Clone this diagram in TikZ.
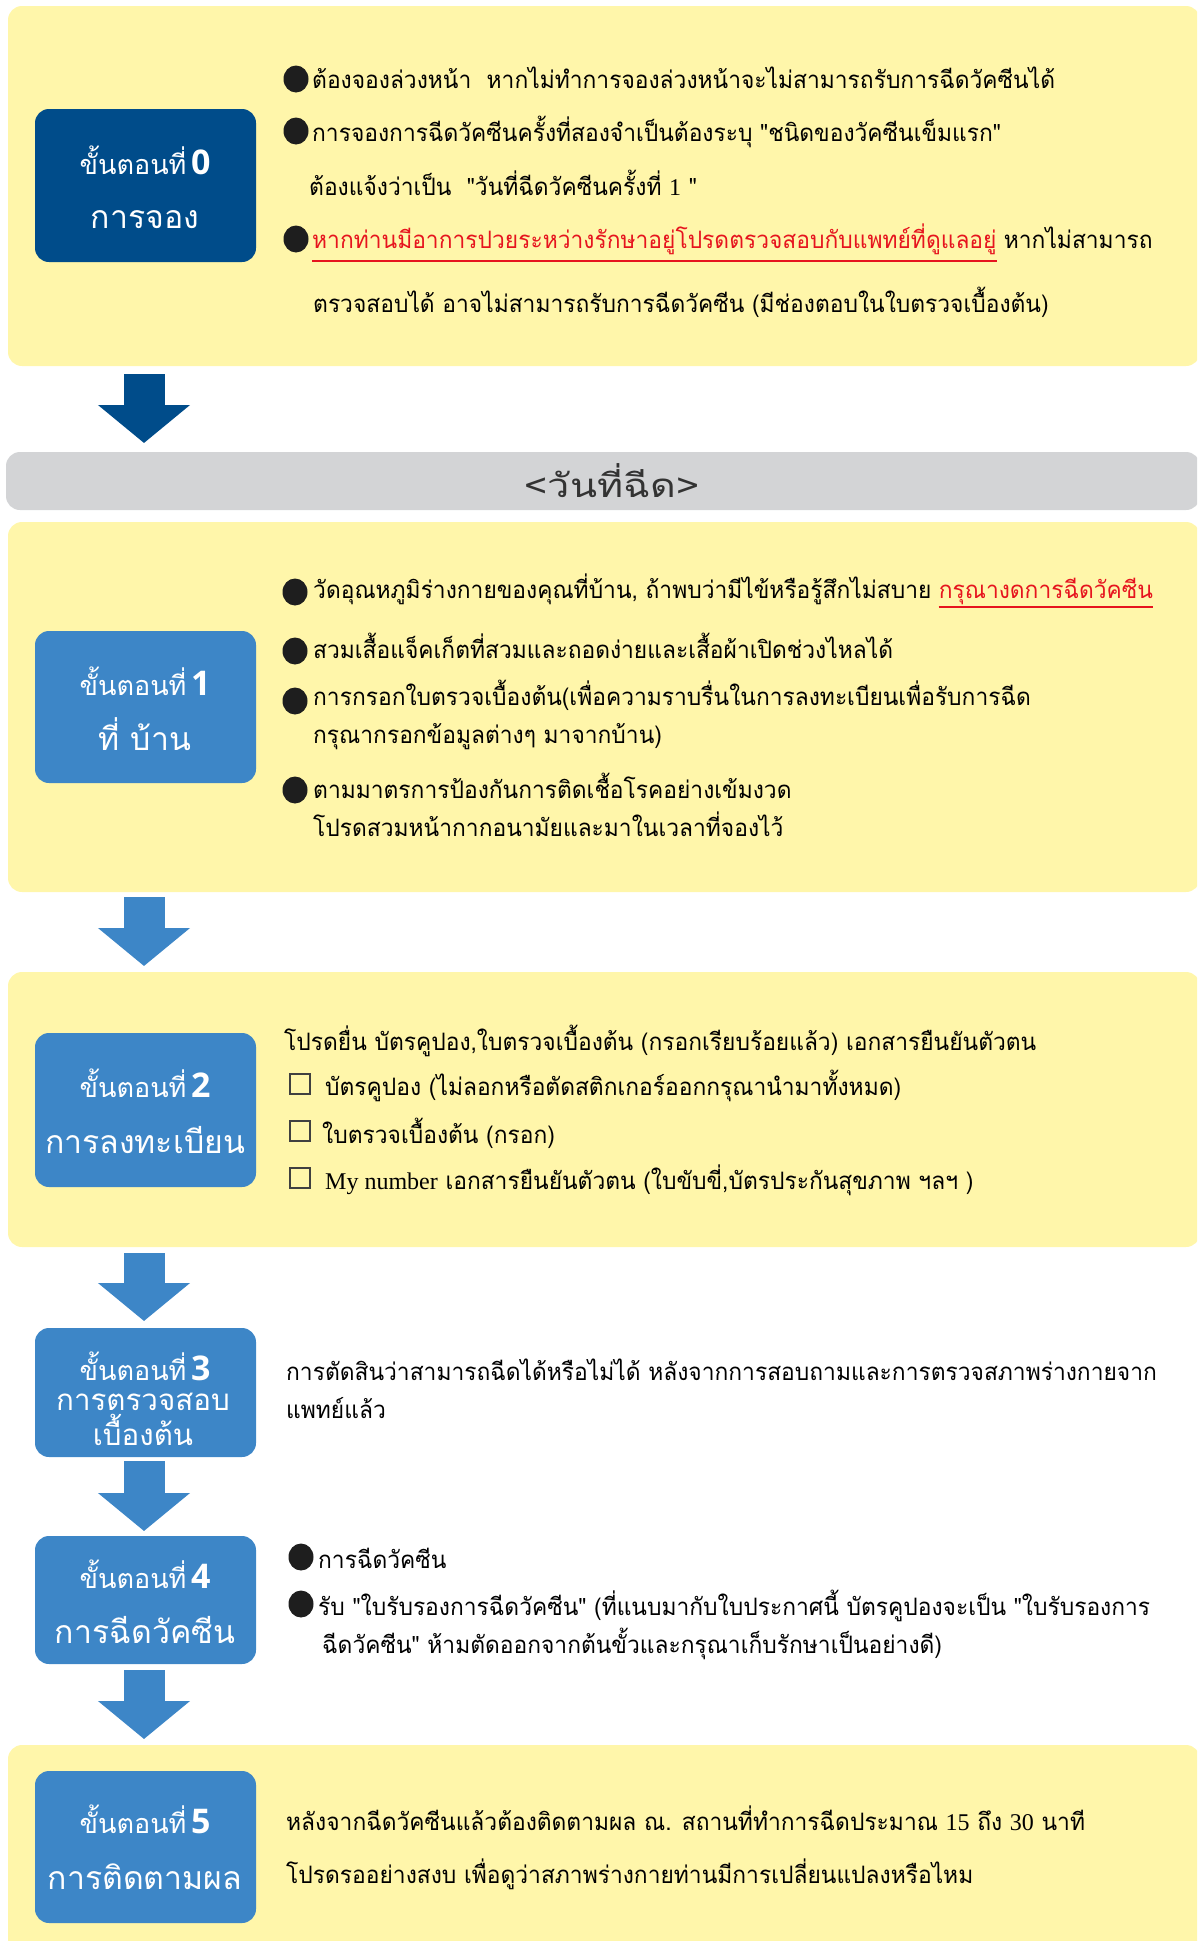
\documentclass[tikz,border=0pt]{standalone}
\usepackage{fontspec}
\usetikzlibrary{arrows.meta}
\newfontfamily\thaifont[Script=Thai]{Loma}
\newfontfamily\bodythai[Script=Thai, FakeStretch=0.95]{Loma}
\newfontfamily\widethai[Script=Thai, FakeStretch=1.2]{Loma}
\newfontfamily\latserif{Liberation Serif}
\newfontfamily\digitfont{Open Sans}
\definecolor{panelyellow}{RGB}{255,246,170}
\definecolor{darkblue}{RGB}{0,76,138}
\definecolor{midblue}{RGB}{61,134,199}
\definecolor{greybar}{RGB}{211,212,214}
\definecolor{redtxt}{RGB}{230,20,30}
\definecolor{bulletblack}{RGB}{30,30,30}
\newcommand\bodyfont{\bodythai\fontsize{24}{28}\selectfont}
\newcommand\boxfont{\thaifont\fontsize{27}{30}\selectfont}
\newcommand\boxbig{\thaifont\fontsize{32}{34}\selectfont}
\newcommand\boxmid{\thaifont\fontsize{29.5}{32}\selectfont}
\newcommand\lat[1]{{\latserif #1}}
\newcommand\dg[1]{{\digitfont\bfseries\fontsize{34}{34}\selectfont #1}}
\begin{document}
\begin{tikzpicture}[x=1pt,y=-1pt,
  panel/.style={fill=panelyellow, rounded corners=14pt},
  stepbox/.style={rounded corners=14pt},
  txt/.style={anchor=base west, inner sep=0pt, font=\bodyfont, text=black},
  redline/.style={draw=redtxt, line width=2.5pt},
  lbl/.style={anchor=base, inner sep=0pt, text=white},
  bigarrow/.style={line width=41pt, -{Triangle[width=90pt,length=38pt]}},
  bul/.style={fill=bulletblack},
  chk/.style={draw=black!75, line width=1.3pt, fill=none}]
\useasboundingbox (0,0) rectangle (1197,1941);
\clip (0,0) rectangle (1197,1941);

% ---------- panels ----------
\path[panel] (8,6) rectangle (1200,366);
\path[fill=greybar, rounded corners=14pt] (6,452) rectangle (1200,510);
\path[panel] (8,522) rectangle (1200,892);
\path[panel] (8,972) rectangle (1200,1247);
\path[panel] (8,1745) rectangle (1200,1960);

% ---------- step boxes ----------
\path[stepbox, fill=darkblue] (35,109) rectangle (256,262);
\path[stepbox, fill=midblue] (35,631) rectangle (256,783);
\path[stepbox, fill=midblue] (35,1033) rectangle (256,1187);
\path[stepbox, fill=midblue] (35,1328) rectangle (256,1457);
\path[stepbox, fill=midblue] (35,1536) rectangle (256,1664);
\path[stepbox, fill=midblue] (35,1771) rectangle (256,1923);

% ---------- box labels ----------
\node[lbl] (s0a) at (145,174) {\boxfont ขั้นตอนที่\,\dg{0}};
\node[lbl] (s0b) at (145,228) {\boxbig การจอง};
\node[lbl] (s1a) at (145,695) {\boxfont ขั้นตอนที่\,\dg{1}};
\node[lbl] (s1b) at (145,750) {\boxbig ที่\ บ้าน};
\node[lbl] (s2a) at (145,1097) {\boxfont ขั้นตอนที่\,\dg{2}};
\node[lbl] (s2b) at (145,1153) {\boxbig การลงทะเบียน};
\node[lbl] (s3a) at (145,1380) {\boxfont ขั้นตอนที่\,\dg{3}};
\node[lbl] (s3b) at (143,1410) {\boxmid การตรวจสอบ};
\node[lbl] (s3c) at (143,1445) {\boxmid เบื้องต้น};
\node[lbl] (s4a) at (145,1588) {\boxfont ขั้นตอนที่\,\dg{4}};
\node[lbl] (s4b) at (145,1643) {\boxbig การฉีดวัคซีน};
\node[lbl] (s5a) at (145,1833) {\boxfont ขั้นตอนที่\,\dg{5}};
\node[lbl] (s5b) at (145,1889) {\boxbig การติดตามผล};

% ---------- day bar ----------
\node[anchor=base, inner sep=0pt, text=black!80] (day) at (612,497)
  {\widethai\fontsize{33}{36}\selectfont <วันที่ฉีด>};

% ---------- arrows ----------
\coordinate (a1s) at (144,374); \coordinate (a1e) at (144,443);
\coordinate (a2s) at (144,897); \coordinate (a2e) at (144,966);
\coordinate (a3s) at (144,1253); \coordinate (a3e) at (144,1321);
\coordinate (a4s) at (144,1461); \coordinate (a4e) at (144,1531);
\coordinate (a5s) at (144,1670); \coordinate (a5e) at (144,1739);
\draw[bigarrow, draw=darkblue, fill=darkblue] (a1s) -- (a1e);
\draw[bigarrow, draw=midblue, fill=midblue] (a2s) -- (a2e);
\draw[bigarrow, draw=midblue, fill=midblue] (a3s) -- (a3e);
\draw[bigarrow, draw=midblue, fill=midblue] (a4s) -- (a4e);
\draw[bigarrow, draw=midblue, fill=midblue] (a5s) -- (a5e);

% ---------- panel 0 text ----------
\fill[bul] (296,79) ellipse (12.5pt and 13.5pt);
\fill[bul] (296,131) ellipse (12.5pt and 13.5pt);
\fill[bul] (296,239) ellipse (12.5pt and 13.5pt);
\node[txt] (p0l1) at (312,88) {ต้องจองล่วงหน้า\ \ หากไม่ทำการจองล่วงหน้าจะไม่สามารถรับการฉีดวัคซีนได้};
\node[txt] (p0l2) at (312,141) {การจองการฉีดวัคซีนครั้งที่สองจำเป็นต้องระบุ "ชนิดของวัคซีนเข็มแรก"};
\node[txt] (p0l3) at (309,195) {ต้องแจ้งว่าเป็น\ \ "วันที่ฉีดวัคซีนครั้งที่ \lat{1} "};
\node[txt, text=redtxt] (p0l4r) at (312,248) {หากท่านมีอาการปวยระหว่างรักษาอยู่โปรดตรวจสอบกับแพทย์ที่ดูแลอยู่};
\node[txt] (p0l4b) at ([xshift=7pt]p0l4r.base east) {หากไม่สามารถ};
\draw[redline] ([yshift=-13pt]p0l4r.base west) -- ([yshift=-13pt]p0l4r.base east);
\node[txt] (p0l5) at (313,312) {ตรวจสอบได้ อาจไม่สามารถรับการฉีดวัคซีน (มีช่องตอบในใบตรวจเบื้องต้น)};

% ---------- panel 1 text ----------
\fill[bul] (295,592) ellipse (12.5pt and 13.5pt);
\fill[bul] (295,651) ellipse (12.5pt and 13.5pt);
\fill[bul] (295,701) ellipse (12.5pt and 13.5pt);
\fill[bul] (295,790) ellipse (12.5pt and 13.5pt);
\node[txt] (p1l1) at (313,598) {วัดอุณหภูมิร่างกายของคุณที่บ้าน, ถ้าพบว่ามีไข้หรือรู้สึกไม่สบาย};
\node[txt, text=redtxt] (p1l1r) at ([xshift=7pt]p1l1.base east) {กรุณางดการฉีดวัคซีน};
\draw[redline] ([yshift=-9pt]p1l1r.base west) -- ([yshift=-9pt]p1l1r.base east);
\node[txt] (p1l2) at (313,658) {สวมเสื้อแจ็คเก็ตที่สวมและถอดง่ายและเสื้อผ้าเปิดช่วงไหลได้};
\node[txt] (p1l3) at (313,705) {การกรอกใบตรวจเบื้องต้น(เพื่อความราบรื่นในการลงทะเบียนเพื่อรับการฉีด};
\node[txt] (p1l4) at (313,743) {กรุณากรอกข้อมูลต่างๆ มาจากบ้าน)};
\node[txt] (p1l5) at (313,798) {ตามมาตรการป้องกันการติดเชื้อโรคอย่างเข้มงวด};
\node[txt] (p1l6) at (313,836) {โปรดสวมหน้ากากอนามัยและมาในเวลาที่จองไว้};

% ---------- panel 2 text ----------
\node[txt] (p2l1) at (284,1050) {โปรดยื่น บัตรคูปอง,ใบตรวจเบื้องต้น (กรอกเรียบร้อยแล้ว) เอกสารยืนยันตัวตน};
\draw[chk] (290,1074) rectangle (310,1094);
\draw[chk] (290,1121) rectangle (310,1141);
\draw[chk] (290,1168) rectangle (310,1188);
\node[txt] (p2l2) at (325,1095) {บัตรคูปอง (ไม่ลอกหรือตัดสติกเกอร์ออกกรุณานำมาทั้งหมด)};
\node[txt] (p2l3) at (322,1143) {ใบตรวจเบื้องต้น (กรอก)};
\node[txt] (p2l4) at (325,1189) {\lat{My number} เอกสารยืนยันตัวตน (ใบขับขี่,บัตรประกันสุขภาพ ฯลฯ )};

% ---------- step 3 text ----------
\node[txt] (p3l1) at (286,1380) {การตัดสินว่าสามารถฉีดได้หรือไม่ได้ หลังจากการสอบถามและการตรวจสภาพร่างกายจาก};
\node[txt] (p3l2) at (286,1418) {แพทย์แล้ว};

% ---------- step 4 text ----------
\fill[bul] (301,1557) ellipse (12.5pt and 13.5pt);
\fill[bul] (301,1604) ellipse (12.5pt and 13.5pt);
\node[txt] (p4l1) at (318,1568) {การฉีดวัคซีน};
\node[txt] (p4l2) at (318,1615) {รับ "ใบรับรองการฉีดวัคซีน" (ที่แนบมากับใบประกาศนี้ บัตรคูปองจะเป็น "ใบรับรองการ};
\node[txt] (p4l3) at (322,1653) {ฉีดวัคซีน" ห้ามตัดออกจากต้นขั้วและกรุณาเก็บรักษาเป็นอย่างดี)};

% ---------- step 5 text ----------
\node[txt] (p5l1) at (286,1830) {หลังจากฉีดวัคซีนแล้วต้องติดตามผล ณ. สถานที่ทำการฉีดประมาณ \lat{15} ถึง \lat{30} นาที};
\node[txt] (p5l2) at (286,1883) {โปรดรออย่างสงบ เพื่อดูว่าสภาพร่างกายท่านมีการเปลี่ยนแปลงหรือไหม};
\end{tikzpicture}
\end{document}
